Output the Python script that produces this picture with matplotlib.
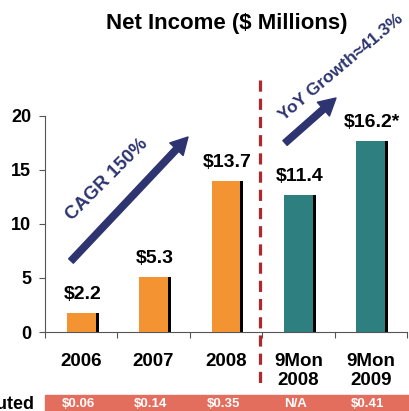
import matplotlib
matplotlib.use("Agg")
import matplotlib.pyplot as plt
import matplotlib.transforms as mtransforms
from matplotlib.patches import Rectangle
import numpy as np

plt.rcParams['font.family'] = ['Liberation Sans', 'DejaVu Sans']

# data
categories = ['2006', '2007', '2008', '9Mon\n2008', '9Mon\n2009']
bar_heights = [1.8, 5.1, 14.0, 12.7, 17.7]
value_labels = ['$2.2', '$5.3', '$13.7', '$11.4', '$16.2*']
eps_labels = ['$0.06', '$0.14', '$0.35', 'N/A', '$0.41']
y_ticks = [0, 5, 10, 15, 20]

ORANGE = '#F39331'
TEAL = '#2E7F7F'
NAVY = '#2D3470'
DASH_RED = '#B0282C'
BAND = '#E46E5E'
colors = [ORANGE, ORANGE, ORANGE, TEAL, TEAL]

W, H = 409, 411
fig = plt.figure(figsize=(W / 100, H / 100), dpi=100)
ax = fig.add_axes([45 / W, (H - 332) / H, 362 / W, 216 / H])

x = np.arange(len(categories)) + 0.02
# black shadow on the right side, coloured bar on top
ax.bar(x, bar_heights, width=0.44, color='black', zorder=2)
ax.bar(x - 0.02, bar_heights, width=0.40, color=colors, zorder=3)

for xi, h, lab in zip(x, bar_heights, value_labels):
    ax.annotate(lab, (xi, h), xytext=(0, 7), textcoords='offset points',
                ha='center', va='bottom', fontsize=14, fontweight='bold')

ax.set_xlim(-0.5, len(categories) - 0.5)
ax.set_ylim(0, 20)
ax.set_yticks(y_ticks)
ax.set_yticklabels([str(v) for v in y_ticks], fontsize=13, fontweight='bold')
ax.set_xticks(np.arange(len(categories) + 1) - 0.5)
ax.set_xticklabels([])
ax.set_xticks(np.arange(len(categories)), minor=True)
ax.set_xticklabels(categories, minor=True, fontsize=13.5, fontweight='bold',
                   linespacing=1.2)
ax.tick_params(axis='x', which='minor', length=0, pad=15)
ax.tick_params(axis='x', which='major', length=4, width=0.8, color='#555555')
ax.tick_params(axis='y', length=4, width=0.8, color='#555555', pad=6)
for s in ['top', 'right']:
    ax.spines[s].set_visible(False)
for s in ['left', 'bottom']:
    ax.spines[s].set_color('#555555')
    ax.spines[s].set_linewidth(0.8)

# dashed divider
trans = mtransforms.blended_transform_factory(ax.transData, fig.transFigure)
ax.plot([2.47, 2.47], [(H - 80) / H, (H - 385) / H], transform=trans,
        color=DASH_RED, lw=2.3, ls=(0, (3.5, 2.2)), clip_on=False, zorder=4)

# diluted EPS band
fig.patches.append(Rectangle((45 / W, 0), 1 - 45 / W, 16 / H,
                             transform=fig.transFigure, color=BAND, zorder=1))
for xi, lab in zip(np.arange(len(categories)), eps_labels):
    fig.text(xi - 0.04, 7 / H, lab, transform=trans, ha='center', va='center',
             color='white', fontsize=9.5, fontweight='bold', zorder=5)
fig.text(35 / W, 7 / H, 'Diluted', ha='right', va='center',
         fontsize=13, fontweight='bold')

# title
fig.text(227 / W, (H - 24) / H, 'Net Income ($ Millions)', ha='center',
         va='center', fontsize=16, fontweight='bold')

# growth arrows
arrow_style = dict(arrowstyle='simple,head_length=1.1,head_width=1.2,tail_width=0.42',
                   color=NAVY, mutation_scale=11, shrinkA=0, shrinkB=0)
ax.annotate('', xy=(188, H - 137), xytext=(71, H - 261),
            xycoords='figure pixels', textcoords='figure pixels',
            arrowprops=arrow_style)
ax.annotate('', xy=(336, H - 98), xytext=(285, H - 143),
            xycoords='figure pixels', textcoords='figure pixels',
            arrowprops=arrow_style)
fig.text(107 / W, (H - 180) / H, 'CAGR 150%', rotation=45, ha='center',
         va='center', rotation_mode='anchor', color=NAVY, fontsize=13.5,
         fontweight='bold')
fig.text(341 / W, (H - 67) / H, 'YoY Growth\u224841.3%', rotation=40,
         ha='center', va='center', rotation_mode='anchor', color=NAVY,
         fontsize=12.5, fontweight='bold')

fig.savefig('out.png', dpi=100)
